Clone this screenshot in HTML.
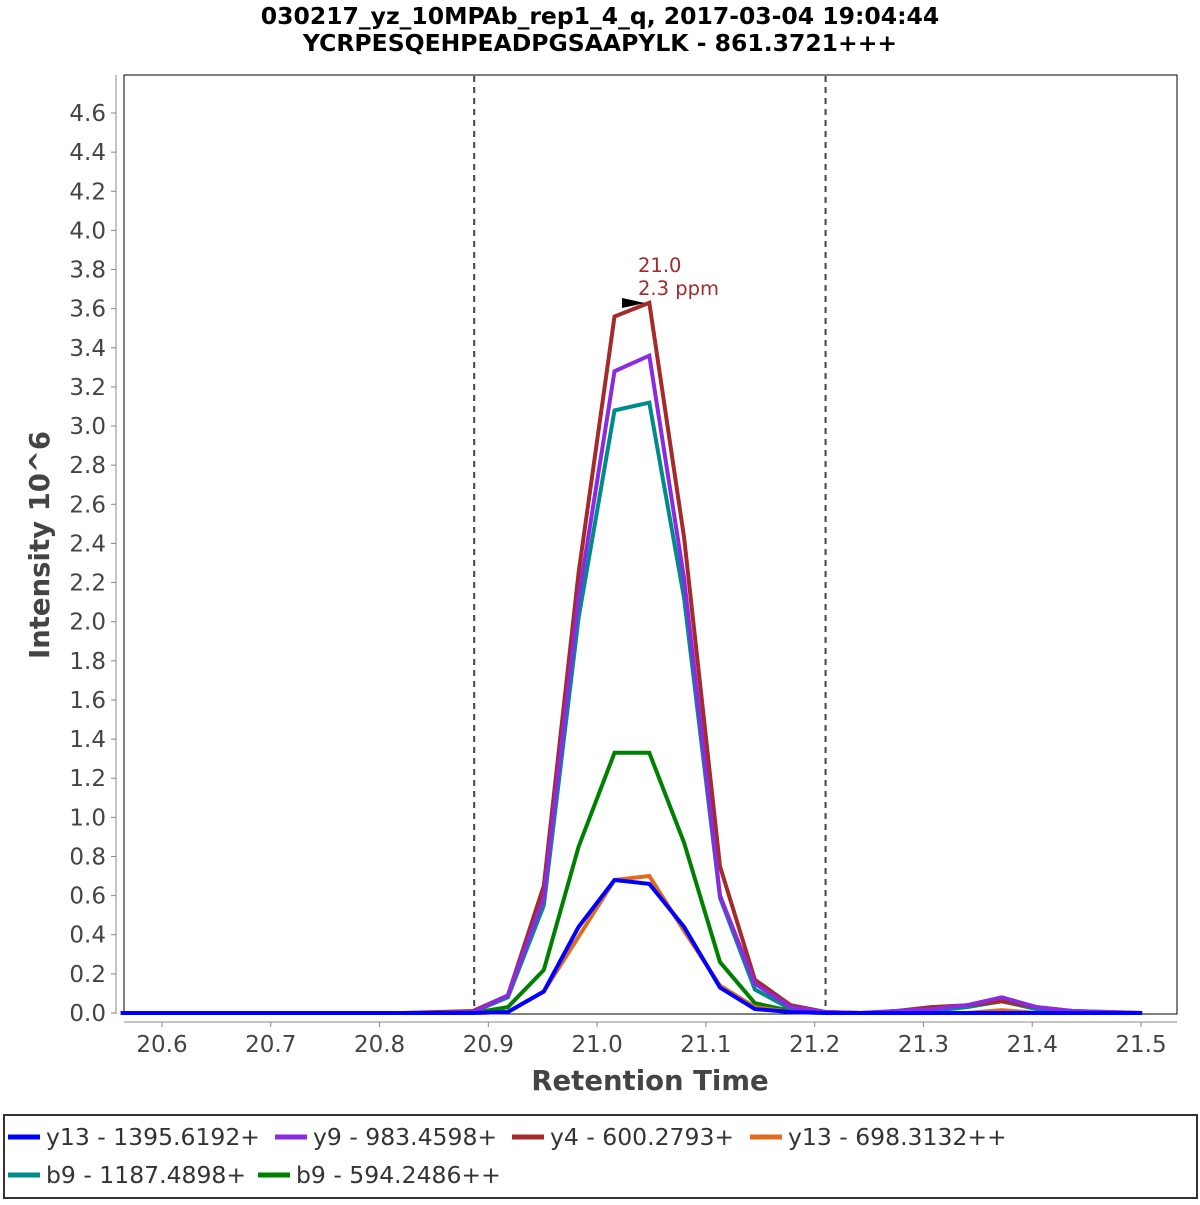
<!DOCTYPE html>
<html><head><meta charset="utf-8"><style>
body{margin:0;background:#fff;font-family:"Liberation Sans","DejaVu Sans",sans-serif}
svg text{font-family:"DejaVu Sans","Liberation Sans",sans-serif}
</style></head><body>
<svg id="chart" width="1200" height="1200" xmlns="http://www.w3.org/2000/svg">
<rect width="1200" height="1200" fill="#fff"/>
<text x="600" y="24" text-anchor="middle" font-size="23.5" font-weight="bold">030217_yz_10MPAb_rep1_4_q, 2017-03-04 19:04:44</text>
<text x="600" y="51" text-anchor="middle" font-size="23.5" font-weight="bold">YCRPESQEHPEADPGSAAPYLK - 861.3721+++</text>
<rect x="124" y="75" width="1053" height="939" fill="#fff" stroke="#000" stroke-width="1"/>
<g id="axes"></g>
<g id="series"></g>
<text x="650" y="1090" text-anchor="middle" font-size="27.5" font-weight="bold" fill="#444">Retention Time</text>
<text transform="translate(49,545) rotate(-90)" text-anchor="middle" font-size="27.5" font-weight="bold" fill="#444">Intensity 10^6</text>
<g>
<polygon points="622,298 645,303 622,308" fill="#000"/>
<text x="638" y="272" font-size="19.5" fill="#a52a2a">21.0</text>
<text x="638" y="295" font-size="19.5" fill="#a52a2a">2.3 ppm</text>
</g>
<rect x="4" y="1115" width="1193" height="83" fill="#fff" stroke="#333" stroke-width="2"/>
<g id="legend"></g>
</svg>
<script>
const times = [20.562,20.594,20.627,20.659,20.692,20.724,20.756,20.789,20.821,20.854,20.886,20.918,20.951,20.983,21.016,21.048,21.080,21.113,21.145,21.178,21.210,21.242,21.275,21.307,21.340,21.372,21.404,21.437,21.469,21.501];
const seriesNames = ["y13 - 1395.6192+","y9 - 983.4598+","y4 - 600.2793+","y13 - 698.3132++","b9 - 1187.4898+","b9 - 594.2486++"];
const seriesColors = ["#0000ff","#8a2be2","#a52a2a","#e06b1f","#008b8b","#008000"];
const y13a = [0,0,0,0,0,0,0,0,0,0,0,0.005,0.11,0.44,0.68,0.66,0.44,0.13,0.02,0.005,0,0,0,0,0,0,0,0,0,0];
const y9 = [0,0,0,0,0,0,0,0,0,0,0.005,0.09,0.59,2.12,3.28,3.36,2.22,0.60,0.15,0.03,0.005,0,0.01,0.02,0.04,0.08,0.03,0.01,0.005,0];
const y4 = [0,0,0,0,0,0,0,0,0,0.005,0.01,0.09,0.65,2.25,3.56,3.63,2.43,0.75,0.17,0.04,0.005,0,0.01,0.03,0.04,0.06,0.03,0.01,0.005,0];
const y13b = [0,0,0,0,0,0,0,0,0,0,0,0.005,0.11,0.39,0.68,0.70,0.42,0.14,0.03,0.005,0,0,0,0,0,0.015,0,0,0,0];
const b9a = [0,0,0,0,0,0,0,0,0,0,0.005,0.08,0.55,2.02,3.08,3.12,2.12,0.59,0.12,0.02,0,0,0,0.01,0.03,0.06,0.02,0.01,0,0];
const b9b = [0,0,0,0,0,0,0,0,0,0,0,0.03,0.22,0.85,1.33,1.33,0.87,0.26,0.05,0.01,0,0,0,0,0,0,0,0,0,0];
const seriesValues = [y13a,y9,y4,y13b,b9a,b9b];
const drawOrder = [5,4,3,2,1,0];
const xTicks = [20.6,20.7,20.8,20.9,21.0,21.1,21.2,21.3,21.4,21.5];
const yTicks = [0,0.2,0.4,0.6,0.8,1.0,1.2,1.4,1.6,1.8,2.0,2.2,2.4,2.6,2.8,3.0,3.2,3.4,3.6,3.8,4.0,4.2,4.4,4.6];
const boundaries = [20.887,21.210];

const NS="http://www.w3.org/2000/svg";
const X = t => 162 + (t-20.6)*1087.8;
const Y = v => 1013 - v*195.65;
function mk(tag, attrs, parent){const e=document.createElementNS(NS,tag);for(const k in attrs)e.setAttribute(k,attrs[k]);parent.appendChild(e);return e;}
const axes=document.getElementById('axes');
mk('line',{x1:124,x2:1177,y1:1022,y2:1022,stroke:'#888'},axes);
mk('line',{x1:116,x2:116,y1:75,y2:1014,stroke:'#888'},axes);
xTicks.forEach(t=>{
  const g=mk('g',{},axes);
  
  
  mk('line',{x1:X(t),x2:X(t),y1:1022,y2:1027,stroke:'#888'},g);
  const tx=mk('text',{x:X(t),y:1052,'text-anchor':'middle','font-size':23,fill:'#444'},g);
  tx.textContent=t.toFixed(1);
});
yTicks.forEach(v=>{
  const g=mk('g',{},axes);
  
  
  mk('line',{x1:111,x2:116,y1:Y(v),y2:Y(v),stroke:'#888'},g);
  const tx=mk('text',{x:106,y:Y(v)+8,'text-anchor':'end','font-size':23,fill:'#444'},g);
  tx.textContent=v.toFixed(1);
});
boundaries.forEach(b=>{
  const l=mk('line',{x1:X(b),x2:X(b),y1:76,y2:1013,stroke:'#444','stroke-width':2,'stroke-dasharray':'6,5'},axes);
  
  
});
const sg=document.getElementById('series');
drawOrder.forEach(i=>{
  const pts=times.map((t,j)=>X(t).toFixed(1)+','+Y(seriesValues[i][j]).toFixed(1)).join(' ');
  const p=mk('polyline',{points:pts,fill:'none',stroke:seriesColors[i],'stroke-width':4,'stroke-linejoin':'miter'},sg);
  
  
});
const lg=document.getElementById('legend');
const legPos=[[8,1137],[275,1137],[512,1137],[750,1137],[8,1175],[258,1175]];
seriesNames.forEach((n,i)=>{
  const g=mk('g',{},lg);
  
  
  const [x,y]=legPos[i];
  mk('line',{x1:x,x2:x+32,y1:y,y2:y,stroke:seriesColors[i],'stroke-width':5},g);
  const tx=mk('text',{x:x+38,y:y+8,'font-size':23.5,fill:'#333'},g);
  tx.textContent=n;
});
</script>
</body></html>
